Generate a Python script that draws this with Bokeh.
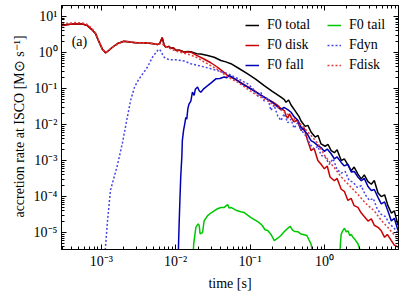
from bokeh.plotting import figure
from bokeh.models import LogAxis, FixedTicker, Legend, LegendItem, Label, Range1d
from bokeh.embed import file_html
from bokeh.resources import INLINE

# ---- data: (time [s], accretion rate [Msun/s]) ----
f0_total = [(2.98e-4, 5.6), (3.6e-4, 6.0), (4.5e-4, 6.3), (5.6e-4, 6.2), (6.5e-4, 5.6), (7.4e-4, 4.4),
            (8.4e-4, 3.3), (9.3e-4, 2.0), (1.03e-3, 1.26), (1.14e-3, 0.98), (1.25e-3, 1.12), (1.41e-3, 1.4),
            (1.66e-3, 1.78), (2.02e-3, 2.05), (2.4e-3, 1.95), (2.9e-3, 1.86), (3.6e-3, 1.86), (4.4e-3, 1.8),
            (5.1e-3, 1.74), (5.7e-3, 1.66), (6.1e-3, 1.78), (6.6e-3, 2.6), (7.0e-3, 1.6), (7.4e-3, 1.4),
            (8.1e-3, 1.48), (8.6e-3, 1.32), (9.3e-3, 1.35), (1.0e-2, 1.17), (1.13e-2, 1.15), (1.3e-2, 1.04),
            (1.46e-2, 1.06), (1.6e-2, 1.05), (1.92e-2, 0.93), (2.18e-2, 0.91), (2.69e-2, 0.83), (3.29e-2, 0.74),
            (4.06e-2, 0.60), (4.73e-2, 0.55), (5.53e-2, 0.49), (7.1e-2, 0.36), (9.3e-2, 0.257), (0.120, 0.18),
            (0.155, 0.12), (0.197, 0.085), (0.26, 0.0575), (0.286, 0.050), (0.305, 0.0417), (0.33, 0.048),
            (0.356, 0.035), (0.404, 0.024), (0.456, 0.0166), (0.485, 0.0126), (0.55, 0.0089), (0.60, 0.0095),
            (0.66, 0.0062), (0.75, 0.0045), (0.82, 0.005), (0.90, 0.0029), (1.02, 0.0025), (1.12, 0.0028),
            (1.23, 0.0019), (1.36, 0.00166), (1.48, 0.0020), (1.68, 1.0e-3), (1.85, 1.12e-3), (2.07, 7.6e-4),
            (2.29, 5.2e-4), (2.51, 6.6e-4), (2.82, 4.2e-4), (3.13, 3.1e-4), (3.43, 4.0e-4), (3.85, 2.6e-4),
            (4.27, 2.2e-4), (4.68, 2.8e-4), (5.25, 1.26e-4), (5.81, 1.0e-4), (6.44, 1.12e-4), (7.14, 5.6e-5),
            (7.93, 3.5e-5), (8.7, 4.0e-5), (9.75, 1.6e-5)]

f0_disk = [(2.98e-4, 5.6), (3.6e-4, 6.0), (4.5e-4, 6.3), (5.6e-4, 6.2), (6.5e-4, 5.6), (7.4e-4, 4.4),
           (8.4e-4, 3.3), (9.3e-4, 2.0), (1.03e-3, 1.26), (1.14e-3, 0.98), (1.25e-3, 1.12), (1.41e-3, 1.4),
           (1.66e-3, 1.78), (2.02e-3, 2.05), (2.4e-3, 1.95), (2.9e-3, 1.86), (3.6e-3, 1.86), (4.4e-3, 1.8),
           (5.1e-3, 1.74), (5.7e-3, 1.66), (6.1e-3, 1.78), (6.6e-3, 2.6), (7.0e-3, 1.6), (7.4e-3, 1.4),
           (8.1e-3, 1.48), (8.6e-3, 1.32), (9.3e-3, 1.35), (1.0e-2, 1.17), (1.13e-2, 1.15), (1.3e-2, 1.02),
           (1.46e-2, 1.05), (1.6e-2, 1.02), (1.92e-2, 0.83), (2.4e-2, 0.66), (2.97e-2, 0.52), (3.66e-2, 0.39),
           (4.3e-2, 0.30), (5.0e-2, 0.23), (5.7e-2, 0.20), (6.8e-2, 0.166), (8.8e-2, 0.12), (0.114, 0.087),
           (0.140, 0.066), (0.173, 0.051), (0.204, 0.042), (0.235, 0.034), (0.26, 0.028), (0.289, 0.0245),
           (0.305, 0.0178), (0.321, 0.0151), (0.34, 0.020), (0.356, 0.0158), (0.39, 0.012), (0.43, 0.0132),
           (0.485, 0.0068), (0.53, 0.0083), (0.585, 0.0040), (0.66, 0.0019), (0.726, 0.0022), (0.815, 1.0e-3),
           (0.90, 7.9e-4), (1.0, 5.9e-4), (1.09, 7.1e-4), (1.19, 3.5e-4), (1.36, 2.75e-4), (1.48, 3.2e-4),
           (1.68, 1.6e-4), (1.85, 1.4e-4), (2.07, 7.8e-5), (2.29, 8.9e-5), (2.51, 5.6e-5), (2.82, 5.0e-5),
           (3.13, 3.5e-5), (3.43, 2.8e-5), (3.85, 2.1e-5), (4.27, 2.4e-5), (4.68, 1.6e-5), (5.25, 1.4e-5),
           (5.81, 1.12e-5), (6.44, 7.4e-6), (7.0, 8.9e-6), (7.93, 6.0e-6), (8.7, 4.5e-6), (9.75, 4.0e-6)]

f0_fall = [(1.076e-2, 1e-6), (1.094e-2, 5e-6), (1.11e-2, 1.4e-5), (1.14e-2, 7.9e-5), (1.17e-2, 3.5e-4),
           (1.21e-2, 1.26e-3), (1.23e-2, 3.6e-3), (1.28e-2, 7.1e-3), (1.32e-2, 0.01), (1.37e-2, 0.0158),
           (1.41e-2, 0.0141), (1.46e-2, 0.028), (1.51e-2, 0.037), (1.6e-2, 0.045), (1.68e-2, 0.079),
           (1.77e-2, 0.065), (1.84e-2, 0.095), (1.97e-2, 0.11), (2.07e-2, 0.087), (2.18e-2, 0.079),
           (2.4e-2, 0.10), (2.69e-2, 0.12), (2.97e-2, 0.141), (3.47e-2, 0.186), (3.93e-2, 0.19),
           (4.49e-2, 0.21), (4.88e-2, 0.20), (5.25e-2, 0.23), (5.88e-2, 0.20), (6.8e-2, 0.166), (7.5e-2, 0.141),
           (0.093, 0.11), (0.114, 0.085), (0.14, 0.066), (0.173, 0.050), (0.21, 0.038), (0.26, 0.026),
           (0.286, 0.030), (0.321, 0.026), (0.356, 0.022), (0.39, 0.0166), (0.44, 0.0132), (0.485, 0.0085),
           (0.53, 0.0071), (0.585, 0.0056), (0.66, 0.0036), (0.726, 0.0032), (0.815, 0.0026), (0.90, 0.0023),
           (1.0, 0.0018), (1.09, 0.0021), (1.23, 0.00155), (1.36, 0.00112), (1.48, 0.00126), (1.68, 8.9e-4),
           (1.85, 7.1e-4), (2.07, 7.9e-4), (2.29, 4.8e-4), (2.51, 5.0e-4), (2.82, 3.5e-4), (3.13, 2.75e-4),
           (3.43, 3.2e-4), (3.85, 1.9e-4), (4.27, 1.48e-4), (4.68, 1.58e-4), (5.25, 9.5e-5), (5.81, 6.3e-5),
           (6.44, 7.1e-5), (7.14, 4.0e-5), (7.93, 2.1e-5), (8.7, 2.5e-5), (9.75, 1.15e-5)]

f0_tail = [(1.68e-2, 1e-6), (1.75e-2, 5e-6), (1.87e-2, 1.4e-5), (2.0e-2, 1.74e-5), (2.07e-2, 1.6e-5),
           (2.13e-2, 9.3e-6), (2.3e-2, 1.0e-5), (2.41e-2, 2.1e-5), (2.69e-2, 2.95e-5), (2.97e-2, 3.5e-5),
           (3.29e-2, 4.0e-5), (3.66e-2, 4.6e-5), (4.06e-2, 5.0e-5), (4.49e-2, 5.0e-5), (5.0e-2, 6.0e-5),
           (5.25e-2, 4.8e-5), (5.53e-2, 5.0e-5), (6.46e-2, 4.2e-5), (7.5e-2, 3.8e-5), (8.35e-2, 3.6e-5),
           (0.103, 2.6e-5), (0.13, 1.95e-5), (0.145, 1.6e-5), (0.159, 1.2e-5), (0.173, 1.15e-5),
           (0.191, 8.9e-6), (0.212, 6.0e-6), (0.238, 7.1e-6), (0.26, 8.3e-6), (0.295, 1.12e-5),
           (0.345, 1.5e-5), (0.375, 1.15e-5), (0.403, 1.07e-5), (0.443, 1.05e-5), (0.485, 9.1e-6),
           (0.58, 8.3e-6), (0.62, 6.3e-6), (0.66, 4.9e-6), (0.70, 2.5e-6), (0.716, 1e-6),
           (1.0, float("nan")),
           (1.58, 1e-6), (1.64, 5e-6), (1.68, 9.1e-6), (1.76, 1.12e-5), (1.86, 1.32e-5), (1.96, 1.05e-5),
           (2.07, 1.12e-5), (2.19, 8.3e-6), (2.29, 8.9e-6), (2.42, 7.4e-6), (2.59, 6.3e-6), (2.82, 4.9e-6),
           (2.98, 3.5e-6), (3.13, 1e-6)]

fdyn = [(1.11e-3, 2e-6), (1.21e-3, 2.0e-5), (1.33e-3, 1.5e-4), (1.64e-3, 7.2e-4), (1.92e-3, 3.0e-3),
        (2.19e-3, 0.0126), (2.48e-3, 0.047), (2.81e-3, 0.112), (3.18e-3, 0.178), (4.17e-3, 0.39),
        (4.91e-3, 0.76), (5.74e-3, 1.15), (6.1e-3, 1.23), (7.0e-3, 0.74), (8.15e-3, 0.63), (1.0e-2, 0.63),
        (1.3e-2, 0.58), (1.6e-2, 0.49), (2.18e-2, 0.42), (2.97e-2, 0.355), (5.0e-2, 0.26), (6.8e-2, 0.19),
        (0.093, 0.135), (0.109, 0.10), (0.13, 0.058), (0.14, 0.079), (0.154, 0.045), (0.173, 0.056),
        (0.191, 0.0245), (0.21, 0.035), (0.235, 0.0178), (0.26, 0.0129), (0.289, 0.020), (0.321, 0.0112),
        (0.356, 0.0141), (0.39, 0.0079), (0.44, 0.0115), (0.485, 0.0071), (0.58, 0.0045), (0.64, 0.0028),
        (0.726, 0.0021), (0.82, 0.0025), (0.90, 1.4e-3), (1.02, 1.26e-3), (1.16, 7.9e-4), (1.31, 1.12e-3),
        (1.48, 5.6e-4), (1.68, 4.5e-4), (1.90, 5.0e-4), (2.15, 2.8e-4), (2.44, 2.5e-4), (2.76, 1.8e-4),
        (3.13, 2.0e-4), (3.54, 1.12e-4), (4.01, 7.9e-5), (4.54, 8.9e-5), (5.13, 4.5e-5), (5.81, 3.2e-5),
        (6.58, 2.8e-5), (7.45, 1.8e-5), (8.43, 1.4e-5), (9.75, 1.0e-5)]

fdisk = [(2.98e-4, 6.2), (4.5e-4, 6.8), (5.6e-4, 6.6), (6.5e-4, 6.0), (7.4e-4, 4.8), (8.4e-4, 3.5),
         (9.3e-4, 2.1), (1.03e-3, 1.3), (1.14e-3, 1.0), (1.41e-3, 1.4), (2.02e-3, 2.1), (2.9e-3, 1.9),
         (4.4e-3, 1.85), (5.7e-3, 1.7), (6.6e-3, 1.75), (7.4e-3, 1.45), (8.6e-3, 1.25), (1.0e-2, 1.1),
         (1.3e-2, 0.95), (1.6e-2, 0.85), (2.0e-2, 0.70), (2.4e-2, 0.55), (3.66e-2, 0.34), (5.0e-2, 0.21),
         (6.8e-2, 0.15), (0.114, 0.072), (0.173, 0.045), (0.235, 0.030), (0.289, 0.022), (0.356, 0.017),
         (0.485, 0.010), (0.66, 0.005), (0.815, 0.003), (1.0, 1.4e-3), (1.36, 6.3e-4), (1.68, 3.5e-4),
         (2.29, 1.8e-4), (2.85, 1.12e-4), (3.65, 6.3e-5), (4.68, 4.0e-5), (5.8, 2.2e-5), (7.1, 1.4e-5),
         (9.9, 6.3e-6)]

x_ticks = [1e-3, 1e-2, 1e-1, 1e0, 1e1]
x_tick_labels = ["10\u207b\u00b3", "10\u207b\u00b2", "10\u207b\u00b9", "10\u2070", "10\u00b9"]
y_ticks = [1e-5, 1e-4, 1e-3, 1e-2, 1e-1, 1e0, 1e1]
y_tick_labels = ["10\u207b\u2075", "10\u207b\u2074", "10\u207b\u00b3", "10\u207b\u00b2",
                 "10\u207b\u00b9", "10\u2070", "10\u00b9"]

series = [
    ("F0 total", f0_total, "#000000", "solid"),
    ("F0 disk", f0_disk, "#c80000", "solid"),
    ("F0 fall", f0_fall, "#0000b4", "solid"),
    ("F0 tail", f0_tail, "#00c800", "solid"),
    ("Fdyn", fdyn, "#4646e6", "2 2"),
    ("Fdisk", fdisk, "#e03c3c", "2 2"),
]

FONT = "Liberation Serif"

p = figure(width=409, height=293, x_axis_type="log", y_axis_type="log",
           x_range=Range1d(2.92e-4, 9.9), y_range=Range1d(3.4e-6, 20.2),
           output_backend="svg", toolbar_location=None,
           min_border_left=61, min_border_right=11, min_border_top=5, min_border_bottom=44)
p.grid.visible = False
p.outline_line_color = "black"
p.outline_line_width = 1
p.background_fill_color = "white"
p.border_fill_color = "white"

renderers = {}
for name, data, color, dash in series:
    xs = [d[0] for d in data]
    ys = [d[1] for d in data]
    renderers[name] = p.line(xs, ys, line_color=color, line_width=1.5, line_dash=dash)

decades = [10.0 ** k for k in range(-6, 2)]
minor = [m * d for d in decades for m in range(2, 10)]

bottom = p.below[0]
left = p.left[0]
top = LogAxis()
right = LogAxis()
p.add_layout(top, "above")
p.add_layout(right, "right")

for ax, ticks, labels in [(bottom, x_ticks, x_tick_labels), (left, y_ticks, y_tick_labels),
                          (top, x_ticks, None), (right, y_ticks, None)]:
    ax.ticker = FixedTicker(ticks=ticks, minor_ticks=minor)
    ax.major_tick_in = 5
    ax.major_tick_out = 0
    ax.minor_tick_in = 3
    ax.minor_tick_out = 0
    ax.axis_line_color = "black"
    ax.major_tick_line_color = "black"
    ax.minor_tick_line_color = "black"
    if labels is None:
        ax.major_label_text_font_size = "1px"
        ax.major_label_text_alpha = 0
        ax.major_label_standoff = 0
    else:
        ax.major_label_overrides = dict(zip(ticks, labels))
        ax.major_label_text_font = FONT
        ax.major_label_text_font_size = "14px"
        ax.major_label_text_color = "black"
        ax.major_label_standoff = 4
        ax.axis_label_text_font = FONT
        ax.axis_label_text_font_size = "14px"
        ax.axis_label_text_font_style = "normal"
        ax.axis_label_text_color = "black"
        ax.axis_label_standoff = 4

bottom.axis_label = "time [s]"
left.axis_label = "accretion rate at ISCO [M\u2299 s\u207b\u00b9]"

def make_legend(names, loc):
    leg = Legend(items=[LegendItem(label=n, renderers=[renderers[n]]) for n in names],
                 location=loc, orientation="vertical")
    leg.label_text_font = FONT
    leg.label_text_font_size = "14px"
    leg.label_text_color = "black"
    leg.label_standoff = 8
    leg.label_height = 20
    leg.glyph_height = 20
    leg.glyph_width = 14
    leg.spacing = 0
    leg.padding = 0
    leg.margin = 0
    leg.border_line_alpha = 0
    leg.background_fill_alpha = 0
    return leg

p.add_layout(make_legend(["F0 total", "F0 disk", "F0 fall"], (184, 174)))
p.add_layout(make_legend(["F0 tail", "Fdyn", "Fdisk"], (266, 174)))

p.add_layout(Label(x=4.0e-4, y=2.0, text="(a)", text_font=FONT, text_font_size="14px",
                   text_baseline="middle", text_align="left", text_color="black"))

open("out.html", "w").write(file_html(p, INLINE))
